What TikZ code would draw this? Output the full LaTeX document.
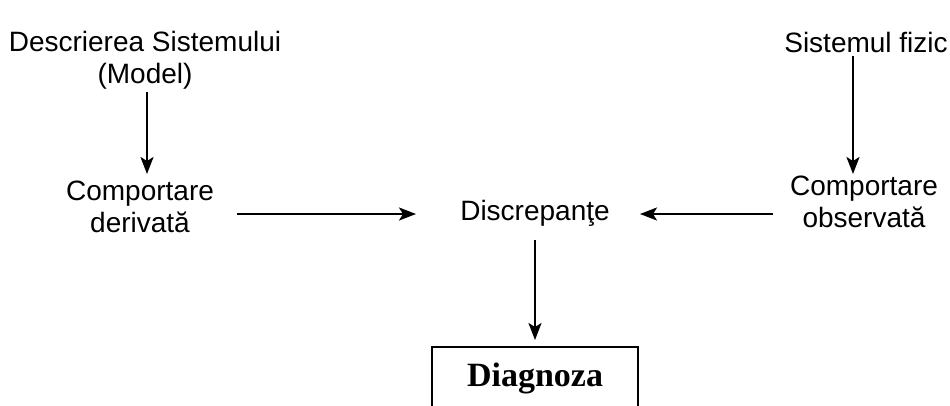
\documentclass[tikz,border=0pt]{standalone}
\usepackage{fontspec}
\setmainfont{Liberation Sans}
\newfontfamily\boxfont{Liberation Serif}
\usetikzlibrary{arrows.meta}
\begin{document}
\begin{tikzpicture}[x=1pt,y=-1pt,
  lbl/.style={font=\fontsize{28}{32}\selectfont, align=center, inner sep=0pt},
  flow/.style={line width=2.2pt, -{Stealth[length=17pt,width=13pt,inset=4pt]}},
  outbox/.style={draw, line width=2pt}]
\useasboundingbox (0,0) rectangle (950,405);
\clip (0,0) rectangle (950,405);
% source and result labels
\node[lbl] (model) at (145,60) {Descrierea Sistemului\\(Model)};
\node[lbl] (fizic) at (866,42) {Sistemul fizic};
\node[lbl] (deriv) at (140,207) {Comportare\\derivată};
\node[lbl] (obs) at (864,202) {Comportare\\observată};
\node[lbl] (disc) at (535,213) {Discrepanţe};
% diagnosis box, cut off at the lower edge
\draw[outbox] (432,347) rectangle (638,420);
\node[font=\boxfont\bfseries\fontsize{34}{38}\selectfont, inner sep=0pt] (diag) at (535,378) {Diagnoza};
% connectors
\coordinate (mA) at (147,92);
\coordinate (mB) at (147,174);
\draw[flow] (mA) -- (mB);
\coordinate (fA) at (853,56);
\coordinate (fB) at (853,174);
\draw[flow] (fA) -- (fB);
\coordinate (dA) at (237,214);
\coordinate (dB) at (416,214);
\draw[flow] (dA) -- (dB);
\coordinate (oA) at (773,214);
\coordinate (oB) at (640,214);
\draw[flow] (oA) -- (oB);
\coordinate (xA) at (535,240);
\coordinate (xB) at (535,340);
\draw[flow] (xA) -- (xB);
\end{tikzpicture}
\end{document}
